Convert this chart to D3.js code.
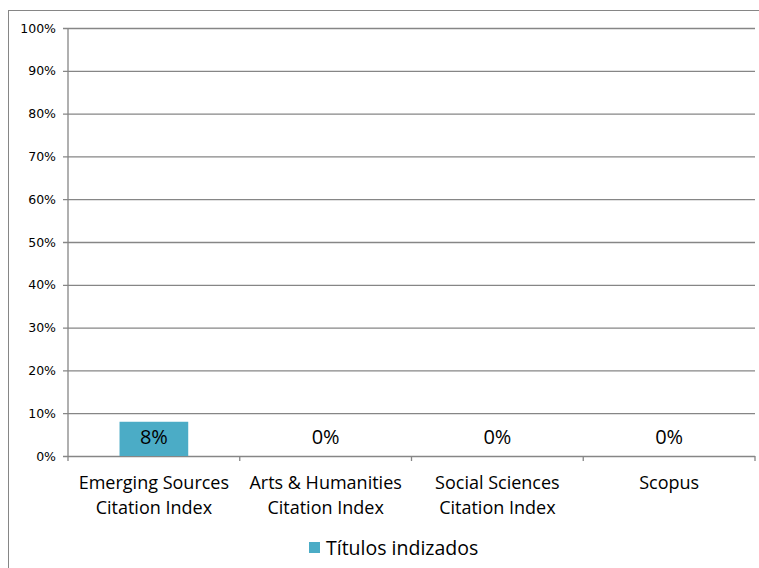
<!DOCTYPE html>
<html>
<head>
<meta charset="utf-8">
<script src="https://cdn.jsdelivr.net/npm/d3@7"></script>
<style>
  body { margin: 0; background: #fff; }
  svg { display: block; }
</style>
</head>
<body>
<div id="chart"></div>
<script>
// chart data
const categories = [
  ["Emerging Sources", "Citation Index"],
  ["Arts & Humanities", "Citation Index"],
  ["Social Sciences", "Citation Index"],
  ["Scopus"]
]
const values = [0.08, 0, 0, 0]
const seriesName = "Títulos indizados"
const yTicks = [0, 0.1, 0.2, 0.3, 0.4, 0.5, 0.6, 0.7, 0.8, 0.9, 1]

const width = 759, height = 568
const plotLeft = 68, plotRight = 755, plotTop = 28, plotBottom = 456

let svg = d3.select("#chart").append("svg")
    .attr("width", width)
    .attr("height", height)

// outer chart frame (cropped at right and bottom)
svg.append("rect")
    .attr("x", 8.5).attr("y", 10.5)
    .attr("width", 800).attr("height", 600)
    .attr("fill", "none")
    .attr("stroke", "#868686")
    .attr("stroke-width", 1)

let xScale = d3.scaleBand()
    .domain(d3.range(categories.length))
    .range([plotLeft, plotRight])
    .paddingInner(0.6)
    .paddingOuter(0.3)

let yScale = d3.scaleLinear()
    .domain([0, 1])
    .range([plotBottom, plotTop])

// gridlines + y axis
let yAxis = d3.axisLeft(yScale)
    .tickValues(yTicks)
    .tickFormat(d3.format(".0%"))
    .tickSize(-(plotRight - plotLeft))
    .tickPadding(12)

let gy = svg.append("g")
    .attr("transform", `translate(${plotLeft},0)`)
    .call(yAxis)
gy.select(".domain").remove()
gy.selectAll(".tick line")
    .attr("x1", -5)
    .attr("stroke", "#868686")
    .attr("stroke-width", 1.3)
gy.selectAll(".tick text")
    .attr("font-family", "DejaVu Sans")
    .attr("font-size", 12.5)
    .attr("fill", "#000")

// y axis line
svg.append("line")
    .attr("x1", plotLeft).attr("x2", plotLeft)
    .attr("y1", plotTop).attr("y2", plotBottom)
    .attr("stroke", "#868686")
    .attr("stroke-width", 1.3)

// x axis tick marks between categories
let catEdges = d3.range(categories.length + 1).map(i => plotLeft + i * (plotRight - plotLeft) / categories.length)
svg.append("g").selectAll("line")
    .data(catEdges).enter()
    .append("line")
    .attr("x1", d => d).attr("x2", d => d)
    .attr("y1", plotBottom).attr("y2", plotBottom + 5)
    .attr("stroke", "#868686")
    .attr("stroke-width", 1.3)

// bars
svg.append("g").selectAll("rect")
    .data(values).enter()
    .append("rect")
    .attr("x", (d, i) => xScale(i))
    .attr("y", d => yScale(d))
    .attr("width", xScale.bandwidth())
    .attr("height", d => plotBottom - yScale(d))
    .attr("fill", "#4BACC6")

// data labels
svg.append("g").selectAll("text")
    .data(values).enter()
    .append("text")
    .attr("x", (d, i) => xScale(i) + xScale.bandwidth() / 2)
    .attr("y", 444)
    .attr("text-anchor", "middle")
    .attr("font-family", "Open Sans")
    .attr("font-size", 20)
    .attr("fill", "#000")
    .text(d => d3.format(".0%")(d))

// category labels
let catText = svg.append("g").selectAll("text")
    .data(categories).enter()
    .append("text")
    .attr("x", (d, i) => xScale(i) + xScale.bandwidth() / 2)
    .attr("y", 489)
    .attr("text-anchor", "middle")
    .attr("font-family", "Open Sans")
    .attr("font-size", 18)
    .attr("fill", "#000")
catText.selectAll("tspan")
    .data(d => d).enter()
    .append("tspan")
    .attr("x", function () { return this.parentNode.getAttribute("x") })
    .attr("dy", (d, i) => i === 0 ? 0 : 25)
    .text(d => d)

// legend
svg.append("rect")
    .attr("x", 309).attr("y", 542)
    .attr("width", 11).attr("height", 11)
    .attr("fill", "#4BACC6")
svg.append("text")
    .attr("x", 326).attr("y", 555)
    .attr("font-family", "Open Sans")
    .attr("font-size", 19.5)
    .attr("fill", "#000")
    .text(seriesName)
</script>
</body>
</html>
